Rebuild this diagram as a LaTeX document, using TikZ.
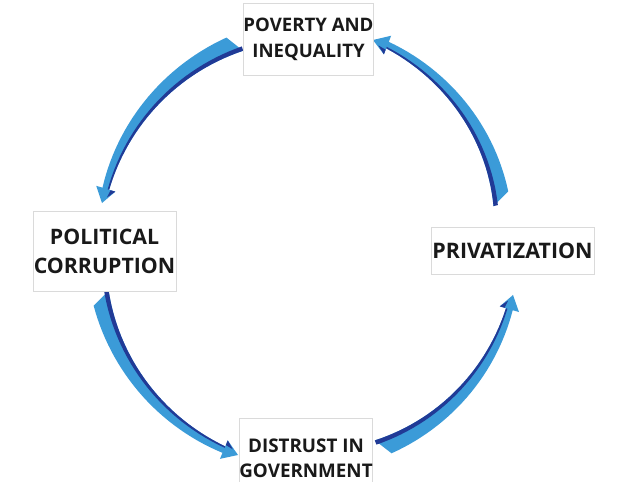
\documentclass[tikz,border=0pt]{standalone}
\usepackage{fontspec}
\setmainfont{Open Sans}
\usetikzlibrary{calc}
\definecolor{ribbon}{RGB}{59,155,216}
\definecolor{ribbonedge}{RGB}{33,58,150}
\definecolor{boxline}{RGB}{218,218,218}

% tapered curved arrow from tail #1 to tip #2, bent round (hub)
\newcommand\looparrow[2]{%
  \path let \p1=($(#1)-(hub)$), \p2=($(#2)-(hub)$) in
    \pgfextra{%
      \pgfmathsetmacro\ta{atan2(\y1,\x1)}\pgfmathsetmacro\ha{atan2(\y2,\x2)}%
      \pgfmathsetmacro\tr{veclen(\x1,\y1)}\pgfmathsetmacro\hr{veclen(\x2,\y2)}%
      \xdef\ta{\ta}\xdef\ha{\ha}\xdef\tr{\tr}\xdef\hr{\hr}};
  \pgfmathsetmacro\ba{\ha-4}
  \begin{scope}[shift={(hub)}]
    \fill[ribbon]
      plot[variable=\t,domain=0:1,samples=30] ({\ta+1.5+(\ba-\ta-1.5)*\t}:{\tr+(\hr-\tr)*\t+9-5.5*\t})
      -- ({\ba}:{\hr+10}) -- ({\ha}:{\hr}) -- ({\ba}:{\hr-10})
      -- plot[variable=\t,domain=1:0,samples=30] ({\ta-1.5+(\ba-\ta+1.5)*\t}:{\tr+(\hr-\tr)*\t-9+5.5*\t})
      -- cycle;
    \fill[ribbonedge]
      plot[variable=\t,domain=0:1,samples=30] ({\ta-1.5+(\ba-\ta+1.5)*\t}:{\tr+(\hr-\tr)*\t-9+5.5*\t})
      -- plot[variable=\t,domain=1:0,samples=30] ({\ta-1.5+(\ba-\ta+1.5)*\t}:{\tr+(\hr-\tr)*\t-4.5+2.5*\t})
      -- cycle;
    \fill[ribbonedge] ({\ba}:{\hr-10}) -- ({\ba}:{\hr-5}) -- ({\ba+2.2}:{\hr-3.5}) -- cycle;
  \end{scope}}

\begin{document}
\begin{tikzpicture}[x=1pt,y=1pt,
  cell/.style={draw=boxline,line width=0.7pt,fill=white,align=center,inner sep=0pt,text=black!90}]
\useasboundingbox (0,0) rectangle (617,-481);
\fill[white] (0,0) rectangle (617,-481);

\coordinate (hub) at (308,-250);
\foreach \k/\tx/\ty/\hx/\hy in {1/235/44/102/203,2/101/298/238/455,3/383/447/513/295,4/501/199/373/40}
{\coordinate (t\k) at (\tx,-\ty);
 \coordinate (h\k) at (\hx,-\hy);
}
\foreach \k in {1,...,4}
  \looparrow{t\k}{h\k};

\node[cell,minimum width=127,minimum height=72,font=\fontsize{18.6}{26}\selectfont\bfseries]
  (poverty) at (308.5,-39) {POVERTY AND\\INEQUALITY};
\node[cell,minimum width=143,minimum height=80,font=\fontsize{21.3}{29}\selectfont\bfseries]
  (corruption) at (104.5,-251) {POLITICAL\\CORRUPTION};
\node[cell,minimum width=163,minimum height=47,font=\fontsize{21.4}{26}\selectfont\bfseries]
  (privatization) at (512.5,-250.5) {PRIVATIZATION};
\node[cell,minimum width=124,minimum height=80,font=\fontsize{18.8}{25}\selectfont\bfseries]
  (distrust) at (306,-458) {DISTRUST IN\\GOVERNMENT};
\end{tikzpicture}
\end{document}
